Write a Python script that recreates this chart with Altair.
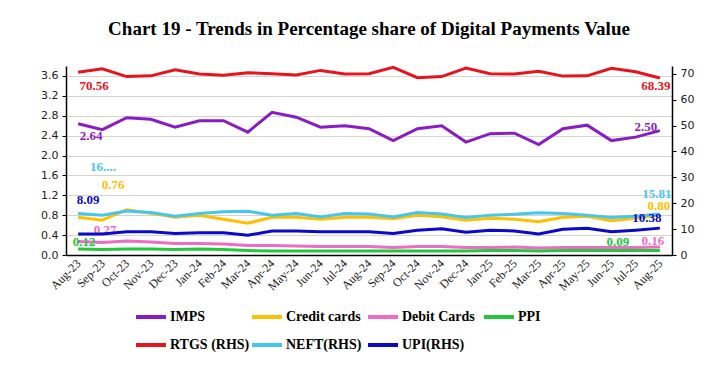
import altair as alt
import pandas as pd

months = ["Aug-23","Sep-23","Oct-23","Nov-23","Dec-23","Jan-24","Feb-24","Mar-24","Apr-24",
          "May-24","Jun-24","Jul-24","Aug-24","Sep-24","Oct-24","Nov-24","Dec-24","Jan-25",
          "Feb-25","Mar-25","Apr-25","May-25","Jun-25","Jul-25","Aug-25"]

imps = [2.64,2.52,2.76,2.73,2.57,2.70,2.70,2.47,2.87,2.77,2.57,2.60,2.54,2.30,2.54,2.60,2.27,2.44,2.45,2.22,2.54,2.61,2.30,2.37,2.50]
credit = [0.76,0.70,0.91,0.84,0.76,0.80,0.72,0.64,0.76,0.76,0.72,0.76,0.76,0.73,0.80,0.77,0.70,0.74,0.72,0.67,0.76,0.78,0.69,0.74,0.80]
debit = [0.27,0.25,0.28,0.26,0.23,0.23,0.22,0.19,0.19,0.18,0.17,0.17,0.17,0.15,0.17,0.17,0.15,0.15,0.16,0.14,0.15,0.15,0.15,0.15,0.16]
ppi = [0.12,0.11,0.12,0.12,0.11,0.12,0.11,0.09,0.08,0.08,0.08,0.08,0.08,0.08,0.08,0.08,0.08,0.09,0.09,0.08,0.09,0.09,0.09,0.09,0.09]
rtgs = [70.56,71.9,68.9,69.2,71.5,69.9,69.4,70.4,70.0,69.5,71.3,69.9,70.0,72.5,68.5,68.9,72.2,70.0,69.9,71.0,69.1,69.2,72.1,70.8,68.39]
neft = [16.0,15.4,17.0,16.4,15.0,16.0,16.7,16.9,15.4,16.0,14.7,16.0,15.8,14.7,16.4,15.8,14.5,15.4,15.7,16.3,16.0,15.4,14.5,15.0,15.81]
upi = [8.09,8.1,9.0,9.0,8.3,8.6,8.6,7.6,9.3,9.3,9.0,9.0,9.0,8.3,9.6,10.1,8.8,9.6,9.3,8.1,9.9,10.3,9.0,9.6,10.38]

left_names = ["IMPS", "Credit cards", "Debit Cards", "PPI"]
right_names = ["RTGS (RHS)", "NEFT(RHS)", "UPI(RHS)"]
names = left_names + right_names
colors = ["#8A1CC4", "#FFC000", "#F06BC8", "#22C83A", "#E8141B", "#45C6F0", "#0A0ACD"]
cmap = dict(zip(names, colors))

left_series = [imps, credit, debit, ppi]
right_series = [rtgs, neft, upi]

# data labels: series, month, value, text, dx, dy
labels_left = [
    ("IMPS", "Aug-23", imps[0], "2.64", 13, 12),
    ("IMPS", "Aug-25", imps[-1], "2.50", -14, -4),
    ("Credit cards", "Aug-23", credit[0], "0.76", 35, -32),
    ("Credit cards", "Aug-25", credit[-1], "0.80", -1, -9),
    ("Debit Cards", "Aug-23", debit[0], "0.27", 27, -12),
    ("Debit Cards", "Aug-25", debit[-1], "0.16", -7, -6),
    ("PPI", "Aug-23", ppi[0], "0.12", 6, -7),
    ("PPI", "Aug-25", ppi[-1], "0.09", -42, -9),
]
labels_right = [
    ("RTGS (RHS)", "Aug-23", rtgs[0], "70.56", 16, 14),
    ("RTGS (RHS)", "Aug-25", rtgs[-1], "68.39", -4, 8),
    ("NEFT(RHS)", "Aug-23", neft[0], "16....", 25, -47),
    ("NEFT(RHS)", "Aug-25", neft[-1], "15.81", -3, -20),
    ("UPI(RHS)", "Aug-23", upi[0], "8.09", 10, -34),
    ("UPI(RHS)", "Aug-25", upi[-1], "10.38", -13, -10),
]

def long_df(nms, series):
    rows = []
    for n, vals in zip(nms, series):
        for m, v in zip(months, vals):
            rows.append({"month": m, "series": n, "value": v})
    return pd.DataFrame(rows)

df_left = long_df(left_names, left_series)
df_right = long_df(right_names, right_series)

x_enc = alt.X("month:O", sort=months, title=None,
              scale=alt.Scale(padding=0.5),
              axis=alt.Axis(labelAngle=-45, labelAlign="right", labelBaseline="middle",
                            labelFont="Liberation Serif", labelFontSize=12, labelColor="#222",
                            ticks=False, domainColor="#000", domainWidth=1.5, labelPadding=6,
                            grid=False))

y_left = alt.Y("value:Q", title=None,
               scale=alt.Scale(domain=[0, 3.8], nice=False, zero=True),
               axis=alt.Axis(values=[round(0.4 * i, 1) for i in range(10)], format=".1f",
                             labelFont="DejaVu Sans", labelFontSize=11, labelColor="#222",
                             tickSize=4, tickColor="#000", domainColor="#000", domainWidth=1.5,
                             gridColor="#D4D4D4", gridWidth=1.2, labelPadding=4))

y_right = alt.Y("value:Q", title=None,
                scale=alt.Scale(domain=[0, 73], nice=False, zero=True),
                axis=alt.Axis(orient="right", values=list(range(0, 71, 10)),
                              labelFont="DejaVu Sans", labelFontSize=11, labelColor="#222",
                              tickSize=4, tickColor="#000", domainColor="#000", domainWidth=1.5,
                              grid=False, labelPadding=4))

color_enc = alt.Color("series:N", sort=names,
                      scale=alt.Scale(domain=names, range=colors),
                      legend=alt.Legend(title=None, orient="none", legendX=68, legendY=234,
                                        direction="horizontal",
                                        columns=4, symbolType="stroke", symbolSize=900,
                                        symbolStrokeWidth=4, labelFont="Liberation Serif",
                                        labelFontWeight="bold", labelFontSize=14,
                                        labelColor="#000", gridAlign="all",
                                        columnPadding=-8, rowPadding=3, labelOffset=2,
                                        symbolOffset=0))

left_lines = alt.Chart(df_left).mark_line(strokeWidth=3).encode(
    x=x_enc, y=y_left, color=color_enc)
right_lines = alt.Chart(df_right).mark_line(strokeWidth=3).encode(
    x=x_enc, y=y_right, color=alt.Color("series:N", sort=names,
                                          scale=alt.Scale(domain=names, range=colors),
                                          legend=None))

def label_layers(specs, y_enc):
    layers = []
    for s, m, v, t, dx, dy in specs:
        d = pd.DataFrame([{"month": m, "value": v, "text": t}])
        layers.append(alt.Chart(d).mark_text(
            dx=dx, dy=dy, font="Liberation Serif", fontWeight="bold", fontSize=13,
            color=cmap[s]).encode(x=x_enc, y=y_enc, text="text:N"))
    return layers

left_group = alt.layer(left_lines, *label_layers(labels_left, y_left))
right_group = alt.layer(right_lines, *label_layers(labels_right, y_right))

chart = alt.layer(left_group, right_group).resolve_scale(y="independent").properties(
    width=606, height=189,
    autosize=alt.AutoSizeParams(type="none"),
    padding={"left": 58, "top": 58, "right": 39, "bottom": 107},
    title=alt.TitleParams("Chart 19 - Trends in Percentage share of Digital Payments Value",
                          font="Liberation Serif", fontSize=19, fontWeight="bold",
                          color="#000", anchor="middle", offset=22),
).configure_view(stroke=None)

chart.save("out.html", embed_options={"renderer": "svg", "actions": False})
